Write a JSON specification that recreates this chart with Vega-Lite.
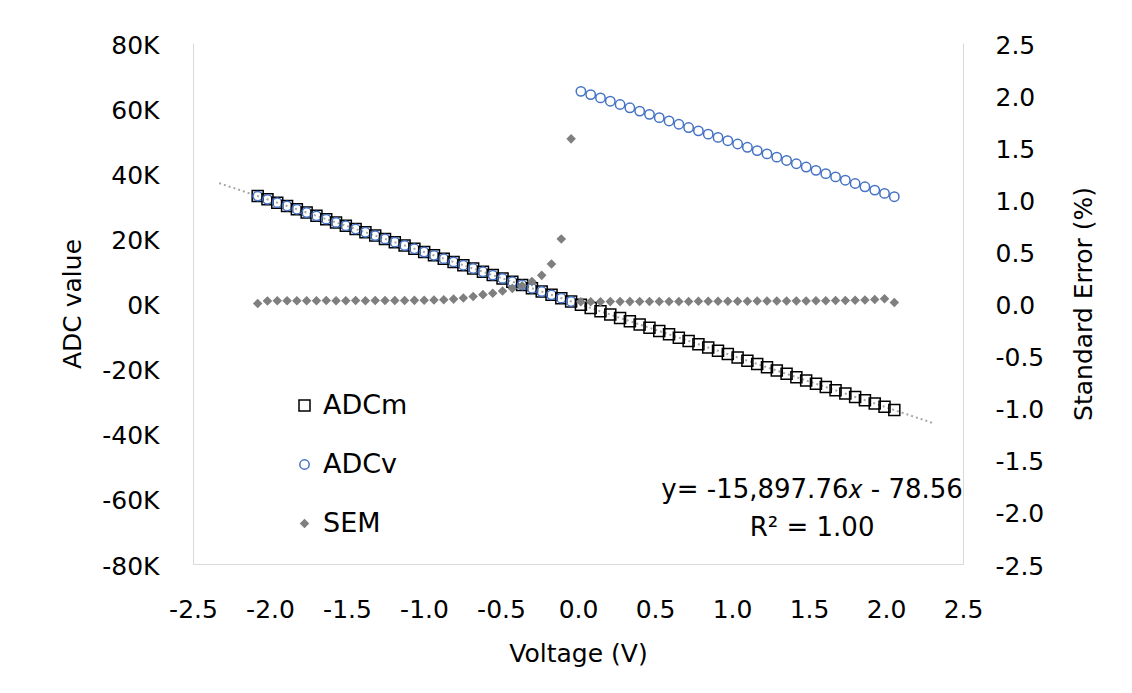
{
  "$schema": "https://vega.github.io/schema/vega-lite/v6.json",
  "width": 770,
  "height": 521,
  "autosize": {"type": "none"},
  "padding": {"left": 193, "top": 43, "right": 169, "bottom": 129},
  "background": "white",
  "config": {
    "view": {"stroke": null},
    "font": "DejaVu Sans",
    "axis": {
      "grid": false,
      "ticks": false,
      "domainColor": "#d9d9d9",
      "domainWidth": 1,
      "labelFont": "DejaVu Sans",
      "labelFontSize": 25,
      "labelColor": "#000000",
      "labelFlush": false,
      "labelOverlap": false,
      "titleFont": "DejaVu Sans",
      "titleFontSize": 25,
      "titleFontWeight": "normal",
      "titleColor": "#000000"
    },
    "legend": {
      "labelFont": "DejaVu Sans",
      "labelFontSize": 27,
      "labelColor": "#000000"
    }
  },
  "datasets": {
    "readings": [
      {"v": -2.08, "ADCm": 32989, "ADCv": 32989, "SEM": 0.0},
      {"v": -2.0164, "ADCm": 31978, "ADCv": 31978, "SEM": 0.025},
      {"v": -1.9528, "ADCm": 30967, "ADCv": 30967, "SEM": 0.027},
      {"v": -1.8892, "ADCm": 29955, "ADCv": 29955, "SEM": 0.027},
      {"v": -1.8256, "ADCm": 28944, "ADCv": 28944, "SEM": 0.026},
      {"v": -1.762, "ADCm": 27933, "ADCv": 27933, "SEM": 0.027},
      {"v": -1.6984, "ADCm": 26922, "ADCv": 26922, "SEM": 0.027},
      {"v": -1.6348, "ADCm": 25911, "ADCv": 25911, "SEM": 0.028},
      {"v": -1.5712, "ADCm": 24900, "ADCv": 24900, "SEM": 0.027},
      {"v": -1.5076, "ADCm": 23889, "ADCv": 23889, "SEM": 0.027},
      {"v": -1.444, "ADCm": 22878, "ADCv": 22878, "SEM": 0.028},
      {"v": -1.3804, "ADCm": 21867, "ADCv": 21867, "SEM": 0.027},
      {"v": -1.3168, "ADCm": 20856, "ADCv": 20856, "SEM": 0.028},
      {"v": -1.2532, "ADCm": 19845, "ADCv": 19845, "SEM": 0.028},
      {"v": -1.1896, "ADCm": 18834, "ADCv": 18834, "SEM": 0.029},
      {"v": -1.126, "ADCm": 17823, "ADCv": 17823, "SEM": 0.029},
      {"v": -1.0624, "ADCm": 16812, "ADCv": 16812, "SEM": 0.03},
      {"v": -0.9988, "ADCm": 15800, "ADCv": 15800, "SEM": 0.031},
      {"v": -0.9352, "ADCm": 14789, "ADCv": 14789, "SEM": 0.033},
      {"v": -0.8716, "ADCm": 13778, "ADCv": 13778, "SEM": 0.036},
      {"v": -0.808, "ADCm": 12767, "ADCv": 12767, "SEM": 0.042},
      {"v": -0.7444, "ADCm": 11756, "ADCv": 11756, "SEM": 0.052},
      {"v": -0.6808, "ADCm": 10745, "ADCv": 10745, "SEM": 0.068},
      {"v": -0.6172, "ADCm": 9734, "ADCv": 9734, "SEM": 0.085},
      {"v": -0.5536, "ADCm": 8723, "ADCv": 8723, "SEM": 0.098},
      {"v": -0.49, "ADCm": 7712, "ADCv": 7712, "SEM": 0.12},
      {"v": -0.4264, "ADCm": 6701, "ADCv": 6701, "SEM": 0.145},
      {"v": -0.3628, "ADCm": 5690, "ADCv": 5690, "SEM": 0.17},
      {"v": -0.2992, "ADCm": 4679, "ADCv": 4679, "SEM": 0.21},
      {"v": -0.2356, "ADCm": 3667, "ADCv": 3667, "SEM": 0.27},
      {"v": -0.172, "ADCm": 2656, "ADCv": 2656, "SEM": 0.38},
      {"v": -0.1084, "ADCm": 1645, "ADCv": 1645, "SEM": 0.62},
      {"v": -0.0448, "ADCm": 634, "ADCv": 634, "SEM": 1.58},
      {"v": 0.0188, "ADCm": -377, "ADCv": 65159, "SEM": 0.016},
      {"v": 0.0824, "ADCm": -1388, "ADCv": 64148, "SEM": 0.017},
      {"v": 0.146, "ADCm": -2399, "ADCv": 63137, "SEM": 0.017},
      {"v": 0.2096, "ADCm": -3410, "ADCv": 62126, "SEM": 0.018},
      {"v": 0.2732, "ADCm": -4421, "ADCv": 61115, "SEM": 0.018},
      {"v": 0.3368, "ADCm": -5432, "ADCv": 60104, "SEM": 0.018},
      {"v": 0.4004, "ADCm": -6444, "ADCv": 59092, "SEM": 0.019},
      {"v": 0.464, "ADCm": -7455, "ADCv": 58081, "SEM": 0.019},
      {"v": 0.5276, "ADCm": -8466, "ADCv": 57070, "SEM": 0.019},
      {"v": 0.5912, "ADCm": -9477, "ADCv": 56059, "SEM": 0.02},
      {"v": 0.6548, "ADCm": -10488, "ADCv": 55048, "SEM": 0.02},
      {"v": 0.7184, "ADCm": -11499, "ADCv": 54037, "SEM": 0.02},
      {"v": 0.782, "ADCm": -12510, "ADCv": 53026, "SEM": 0.021},
      {"v": 0.8456, "ADCm": -13521, "ADCv": 52015, "SEM": 0.021},
      {"v": 0.9092, "ADCm": -14532, "ADCv": 51004, "SEM": 0.021},
      {"v": 0.9728, "ADCm": -15543, "ADCv": 49993, "SEM": 0.022},
      {"v": 1.0364, "ADCm": -16554, "ADCv": 48982, "SEM": 0.022},
      {"v": 1.1, "ADCm": -17566, "ADCv": 47970, "SEM": 0.022},
      {"v": 1.1636, "ADCm": -18577, "ADCv": 46959, "SEM": 0.023},
      {"v": 1.2272, "ADCm": -19588, "ADCv": 45948, "SEM": 0.023},
      {"v": 1.2908, "ADCm": -20599, "ADCv": 44937, "SEM": 0.024},
      {"v": 1.3544, "ADCm": -21610, "ADCv": 43926, "SEM": 0.024},
      {"v": 1.418, "ADCm": -22621, "ADCv": 42915, "SEM": 0.025},
      {"v": 1.4816, "ADCm": -23632, "ADCv": 41904, "SEM": 0.025},
      {"v": 1.5452, "ADCm": -24643, "ADCv": 40893, "SEM": 0.026},
      {"v": 1.6088, "ADCm": -25654, "ADCv": 39882, "SEM": 0.027},
      {"v": 1.6724, "ADCm": -26665, "ADCv": 38871, "SEM": 0.028},
      {"v": 1.736, "ADCm": -27677, "ADCv": 37859, "SEM": 0.029},
      {"v": 1.7996, "ADCm": -28688, "ADCv": 36848, "SEM": 0.031},
      {"v": 1.8632, "ADCm": -29699, "ADCv": 35837, "SEM": 0.034},
      {"v": 1.9268, "ADCm": -30710, "ADCv": 34826, "SEM": 0.038},
      {"v": 1.9904, "ADCm": -31721, "ADCv": 33815, "SEM": 0.045},
      {"v": 2.054, "ADCm": -32733, "ADCv": 32803, "SEM": 0.01}
    ],
    "fit": [
      {"v": -2.33, "adc": 36963},
      {"v": 2.3, "adc": -36643}
    ],
    "equation": [
      {"v": 1.52, "adc": -57300, "text": "y= -15,897.76𝑥 - 78.56"},
      {"v": 1.52, "adc": -68900, "text": "R² = 1.00"}
    ]
  },
  "layer": [
    {
      "layer": [
        {
          "data": {"name": "fit"},
          "mark": {"type": "line", "color": "#a6a6a6", "strokeWidth": 2, "strokeDash": [2, 3]},
          "encoding": {
            "x": {"field": "v", "type": "quantitative"},
            "y": {"field": "adc", "type": "quantitative"}
          }
        },
        {
          "data": {"name": "readings"},
          "transform": [{"fold": ["ADCm", "ADCv"], "as": ["series", "adc"]}],
          "mark": {"type": "point", "opacity": 1, "strokeWidth": 1.5},
          "encoding": {
            "x": {"field": "v", "type": "quantitative"},
            "y": {"field": "adc", "type": "quantitative"},
            "shape": {
              "field": "series", "type": "nominal",
              "scale": {"domain": ["ADCm", "ADCv", "SEM"], "range": ["square", "circle", "diamond"]},
              "legend": {"title": null, "orient": "none", "legendX": 98, "legendY": 349, "rowPadding": 31, "labelOffset": 5, "symbolStrokeWidth": 1.5}
            },
            "fill": {
              "field": "series", "type": "nominal",
              "scale": {"domain": ["ADCm", "ADCv", "SEM"], "range": ["transparent", "transparent", "#7f7f7f"]},
              "legend": {"title": null, "orient": "none", "legendX": 98, "legendY": 349, "rowPadding": 31, "labelOffset": 5, "symbolStrokeWidth": 1.5}
            },
            "stroke": {
              "field": "series", "type": "nominal",
              "scale": {"domain": ["ADCm", "ADCv", "SEM"], "range": ["#000000", "#4472c4", "#7f7f7f"]},
              "legend": {"title": null, "orient": "none", "legendX": 98, "legendY": 349, "rowPadding": 31, "labelOffset": 5, "symbolStrokeWidth": 1.5}
            },
            "size": {
              "field": "series", "type": "nominal",
              "scale": {"domain": ["ADCm", "ADCv", "SEM"], "range": [121, 55, 81]},
              "legend": {"title": null, "orient": "none", "legendX": 98, "legendY": 349, "rowPadding": 31, "labelOffset": 5, "symbolStrokeWidth": 1.5}
            }
          }
        },
        {
          "data": {"name": "equation"},
          "mark": {"type": "text", "fontSize": 26, "font": "DejaVu Sans", "color": "#000000", "align": "center", "baseline": "middle"},
          "encoding": {
            "x": {"field": "v", "type": "quantitative"},
            "y": {"field": "adc", "type": "quantitative"},
            "text": {"field": "text"}
          }
        }
      ],
      "encoding": {
        "x": {
          "field": "v", "type": "quantitative",
          "scale": {"domain": [-2.5, 2.5], "nice": false, "zero": false},
          "axis": {
            "title": "Voltage (V)",
            "values": [-2.5, -2, -1.5, -1, -0.5, 0, 0.5, 1, 1.5, 2, 2.5],
            "labelExpr": "(datum.value < 0 ? '-' : '') + format(abs(datum.value), '.1f')",
            "labelPadding": 33,
            "titlePadding": 19
          }
        },
        "y": {
          "field": "adc", "type": "quantitative",
          "scale": {"domain": [-80000, 80000], "nice": false, "zero": false},
          "axis": {
            "title": "ADC value",
            "orient": "left",
            "values": [-80000, -60000, -40000, -20000, 0, 20000, 40000, 60000, 80000],
            "labelExpr": "(datum.value < 0 ? '-' : '') + format(abs(datum.value) / 1000, 'd') + 'K'",
            "labelPadding": 34,
            "labelOffset": 2,
            "titlePadding": 16
          }
        }
      }
    },
    {
      "data": {"name": "readings"},
      "transform": [{"fold": ["SEM"], "as": ["series", "sem"]}],
      "mark": {"type": "point", "opacity": 1, "strokeWidth": 1.5},
      "encoding": {
        "x": {"field": "v", "type": "quantitative"},
        "y": {
          "field": "sem", "type": "quantitative",
          "scale": {"domain": [-2.5, 2.5], "nice": false, "zero": false},
          "axis": {
            "title": "Standard Error (%)",
            "orient": "right",
            "values": [-2.5, -2, -1.5, -1, -0.5, 0, 0.5, 1, 1.5, 2, 2.5],
            "labelExpr": "(datum.value < 0 ? '-' : '') + format(abs(datum.value), '.1f')",
            "labelPadding": 32,
            "labelOffset": 2,
            "titleAngle": 270,
            "titleBaseline": "top",
            "titlePadding": 28
          }
        },
        "shape": {"field": "series", "type": "nominal"},
        "fill": {"field": "series", "type": "nominal"},
        "stroke": {"field": "series", "type": "nominal"},
        "size": {"field": "series", "type": "nominal"}
      }
    }
  ],
  "resolve": {"scale": {"y": "independent"}}
}
